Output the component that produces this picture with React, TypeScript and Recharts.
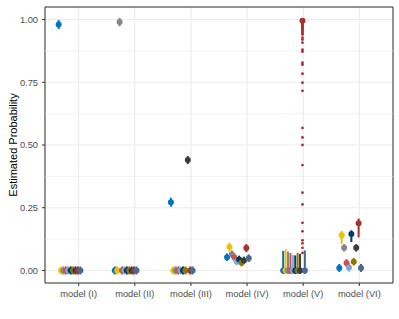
import {
  ScatterChart, Scatter, XAxis, YAxis, CartesianGrid, ErrorBar, ReferenceLine, ReferenceArea,
} from 'recharts'

const models = ['model (I)', 'model (II)', 'model (III)', 'model (IV)', 'model (V)', 'model (VI)']
const yTicks = [0, 0.25, 0.5, 0.75, 1]
const yMinor = [0.125, 0.375, 0.625, 0.875]

// one estimate per model, plus lower / upper interval ends
const blueEst = [0.98, 0, 0.272, 0.053, 0, 0.01]
const blueLo = [0.962, -0.016, 0.254, 0.038, -0.014, -0.006]
const blueHi = [0.998, 0.016, 0.29, 0.068, 0.078, 0.026]

const goldEst = [0, 0, 0, 0.093, 0, 0.14]
const goldLo = [-0.016, -0.016, -0.016, 0.076, -0.014, 0.106]
const goldHi = [0.016, 0.016, 0.016, 0.11, 0.085, 0.158]

const greyEst = [0, 0.99, 0, 0.065, 0, 0.09]
const greyLo = [-0.016, 0.973, -0.016, 0.05, -0.014, 0.075]
const greyHi = [0.016, 1.006, 0.016, 0.08, 0.075, 0.105]

const salmonEst = [0, 0, 0, 0.053, 0, 0.03]
const salmonLo = [-0.016, -0.016, -0.016, 0.038, -0.014, 0.015]
const salmonHi = [0.016, 0.016, 0.016, 0.068, 0.07, 0.045]

const skyEst = [0, 0, 0, 0.036, 0, 0.012]
const skyLo = [-0.016, -0.016, -0.016, 0.021, -0.014, -0.004]
const skyHi = [0.016, 0.016, 0.016, 0.051, 0.062, 0.028]

const navyEst = [0, 0, 0, 0.044, 0, 0.145]
const navyLo = [-0.016, -0.016, -0.016, 0.029, -0.014, 0.113]
const navyHi = [0.016, 0.016, 0.016, 0.059, 0.06, 0.16]

const oliveEst = [0, 0, 0, 0.031, 0, 0.035]
const oliveLo = [-0.016, -0.016, -0.016, 0.016, -0.014, 0.02]
const oliveHi = [0.016, 0.016, 0.016, 0.046, 0.07, 0.05]

const charcoalEst = [0, 0, 0.44, 0.04, 0, 0.09]
const charcoalLo = [-0.016, -0.016, 0.424, 0.025, -0.014, 0.075]
const charcoalHi = [0.016, 0.016, 0.456, 0.055, 0.066, 0.105]

const crimsonEst = [0, 0, 0, 0.089, 0.995, 0.188]
const crimsonLo = [-0.016, -0.016, -0.016, 0.073, 0.962, 0.132]
const crimsonHi = [0.016, 0.016, 0.016, 0.105, 1.004, 0.207]

const steelEst = [0, 0, 0, 0.049, 0, 0.01]
const steelLo = [-0.016, -0.016, -0.016, 0.034, -0.014, -0.006]
const steelHi = [0.016, 0.016, 0.016, 0.064, 0.08, 0.026]

// single draws shown for model (V), crimson group
const crimsonDraws = [
  0.995, 0.99, 0.985, 0.98, 0.975, 0.97, 0.965, 0.96, 0.955, 0.95, 0.945, 0.94,
  0.928, 0.92, 0.908, 0.88, 0.872, 0.828, 0.82, 0.784, 0.748, 0.716,
  0.568, 0.53, 0.5, 0.42, 0.31, 0.263, 0.19, 0.156, 0.12, 0.108, 0.09, 0.07,
]

const groups = [
  { name: 'A', color: '#0073C2', est: blueEst, lo: blueLo, hi: blueHi },
  { name: 'B', color: '#EFC000', est: goldEst, lo: goldLo, hi: goldHi },
  { name: 'C', color: '#868686', est: greyEst, lo: greyLo, hi: greyHi },
  { name: 'D', color: '#CD534C', est: salmonEst, lo: salmonLo, hi: salmonHi },
  { name: 'E', color: '#7AA6DC', est: skyEst, lo: skyLo, hi: skyHi },
  { name: 'F', color: '#003C67', est: navyEst, lo: navyLo, hi: navyHi },
  { name: 'G', color: '#8F7700', est: oliveEst, lo: oliveLo, hi: oliveHi },
  { name: 'H', color: '#3B3B3B', est: charcoalEst, lo: charcoalLo, hi: charcoalHi },
  { name: 'I', color: '#A73030', est: crimsonEst, lo: crimsonLo, hi: crimsonHi },
  { name: 'J', color: '#4A6990', est: steelEst, lo: steelLo, hi: steelHi },
]

const dodge = (k: number) => (k - 8.3) * 0.043

const seriesData = groups.map((g, k) =>
  g.est.map((v, m) => ({ x: m + 1 + dodge(k), y: v, err: [v - g.lo[m], g.hi[m] - v] })),
)
const drawsData = crimsonDraws.map((v) => ({ x: 5 + dodge(8), y: v }))

const axisText = { fontSize: 9.3, fill: '#4D4D4D' }

export default function App() {
  return (
    <div style={{ position: 'absolute', left: 0, top: 0, fontFamily: '"Liberation Sans", Arial, sans-serif', background: '#fff' }}>
      <ScatterChart width={399} height={319} margin={{ top: 7, right: 6, left: 0, bottom: 0 }}>
        <CartesianGrid stroke="#EBEBEB" strokeWidth={1.1} />
        {yMinor.map((v) => (
          <ReferenceLine key={v} y={v} stroke="#EBEBEB" strokeWidth={0.6} />
        ))}
        <XAxis
          type="number" dataKey="x" domain={[0.4, 6.6]} ticks={[1, 2, 3, 4, 5, 6]}
          tickFormatter={(i: number) => models[i - 1]} allowDataOverflow height={36}
          axisLine={false} tickSize={3} tickMargin={4} tickLine={{ stroke: '#333333' }} tick={axisText}
          interval={0}
        />
        <YAxis
          type="number" dataKey="y" domain={[-0.05, 1.05]} ticks={yTicks} allowDataOverflow width={45}
          tickFormatter={(v: number) => v.toFixed(2)} axisLine={false} tickSize={3} tickMargin={4}
          tickLine={{ stroke: '#333333' }} tick={axisText}
          label={{ value: 'Estimated Probability', angle: -90, position: 'center', dx: -9.5, style: { fontSize: 11, fill: '#000' } }}
        />
        {groups.map((g, k) => (
          <Scatter
            key={g.name} name={g.name} data={seriesData[k]} fill={g.color} isAnimationActive={false}
            shape={(p: any) => <circle cx={p.cx} cy={p.cy} r={3} fill={g.color} />}
          >
            <ErrorBar dataKey="err" direction="y" width={0} stroke={g.color} strokeWidth={2} isAnimationActive={false} />
          </Scatter>
        ))}
        <Scatter
          name="draws" data={drawsData} fill="#A73030" isAnimationActive={false}
          shape={(p: any) => <circle cx={p.cx} cy={p.cy} r={1.4} fill="#A73030" />}
        />
        <ReferenceArea x1={0.4} x2={6.6} y1={-0.05} y2={1.05} fill="none" stroke="#333333" strokeWidth={1} ifOverflow="visible" />
      </ScatterChart>
    </div>
  )
}
